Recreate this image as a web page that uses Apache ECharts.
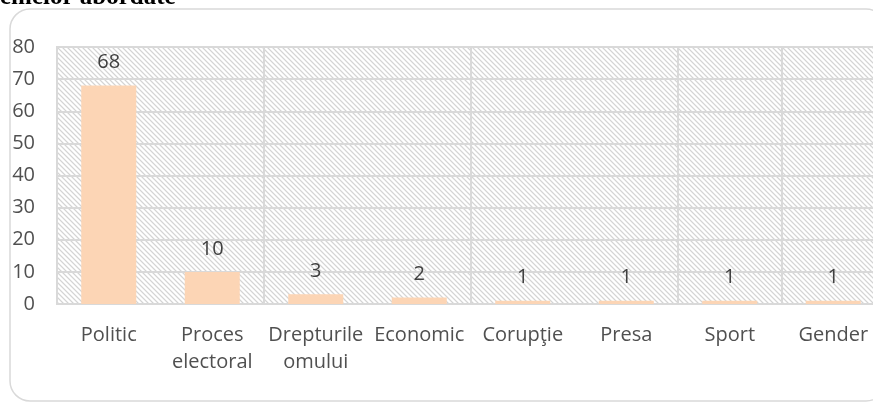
<!DOCTYPE html>
<html>
<head>
<meta charset="utf-8">
<script src="https://cdn.jsdelivr.net/npm/echarts@6/dist/echarts.min.js"></script>
<style>html,body{margin:0;padding:0;background:#fff;}#c{width:873px;height:402px;}</style>
</head>
<body>
<div id="c"></div>
<script>
const categories = ['Politic', 'Proces\nelectoral', 'Drepturile\nomului', 'Economic', 'Corupţie', 'Presa', 'Sport', 'Gender'];
const values = [68, 10, 3, 2, 1, 1, 1, 1];
const yTicks = { min: 0, max: 80, interval: 10 };
const titleText = 'emelor abordate';

// hatch pattern
const tile = document.createElement('canvas');
const T = 5;
tile.width = T; tile.height = T;
const tc = tile.getContext('2d');
const img = tc.createImageData(T, T);
for (let y = 0; y < T; y++) {
  for (let x = 0; x < T; x++) {
    const d = ((x - y) % T + T) % T;
    let v = 255;
    if (d === 0) v = 212;
    else if (d === 1 || d === T - 1) v = 238;
    const i = (y * T + x) * 4;
    img.data[i] = v; img.data[i + 1] = v; img.data[i + 2] = v; img.data[i + 3] = 255;
  }
}
tc.putImageData(img, 0, 0);

const chart = echarts.init(document.getElementById('c'), null, { renderer: 'canvas' });
const font = '"Open Sans", "Noto Sans", sans-serif';
chart.setOption({
  animation: false,
  grid: {
    left: 57, top: 47, right: -12, bottom: 98,
    outerBoundsMode: 'none',
    containLabel: false,
    show: true,
    backgroundColor: { image: tile, repeat: 'repeat' },
    borderColor: '#d9d9d9', borderWidth: 2
  },
  graphic: [
    {
      type: 'rect', z: -1,
      shape: { x: 10, y: 9, width: 876, height: 392, r: 20 },
      style: { fill: 'none', stroke: '#d9d9d9', lineWidth: 1.5 }
    },
    {
      type: 'text', left: 0, top: -15,
      style: { text: titleText, font: 'bold 25px "Liberation Serif", "Times New Roman", serif', fill: '#000' }
    }
  ],
  xAxis: {
    type: 'category',
    data: categories,
    axisLine: { show: true, lineStyle: { color: '#d9d9d9', width: 2 } },
    axisTick: { show: false },
    splitLine: { show: true, interval: 1, lineStyle: { color: '#d9d9d9', width: 2 } },
    axisLabel: {
      interval: 0, margin: 18, color: '#505050', fontSize: 20, lineHeight: 27,
      fontFamily: font
    }
  },
  yAxis: {
    type: 'value',
    min: yTicks.min, max: yTicks.max, interval: yTicks.interval,
    axisLine: { show: false },
    axisTick: { show: false },
    splitLine: { show: true, lineStyle: { color: '#d9d9d9', width: 2 } },
    axisLabel: { margin: 22, color: '#505050', fontSize: 20, fontFamily: font }
  },
  series: [{
    type: 'bar',
    data: values,
    barWidth: 55,
    itemStyle: { color: '#FCD5B5' },
    label: {
      show: true, position: 'top', distance: 13,
      color: '#404040', fontSize: 20, fontFamily: font
    }
  }]
});
</script>
</body>
</html>
